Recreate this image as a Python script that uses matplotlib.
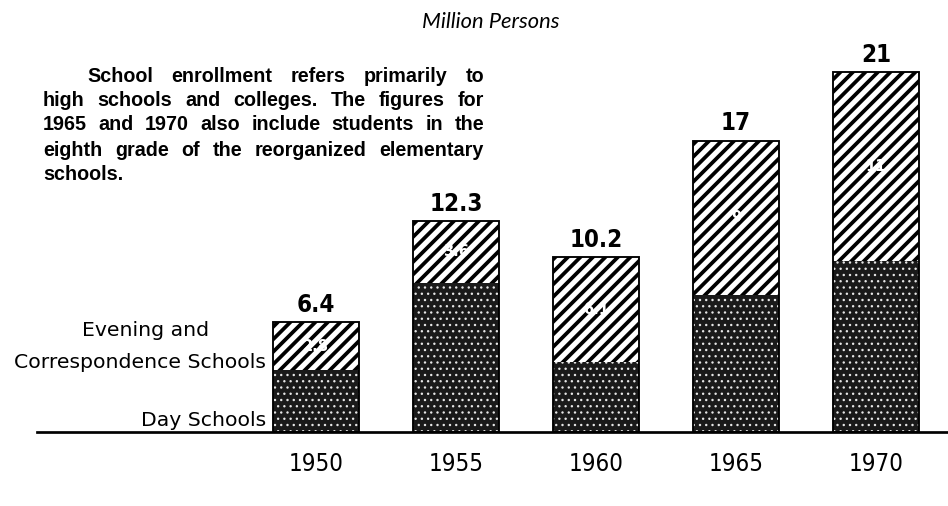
import matplotlib
matplotlib.use('Agg')
import matplotlib.pyplot as plt
import matplotlib.font_manager as fm
import numpy as np

# data (million persons)
years = ['1950', '1955', '1960', '1965', '1970']
day_schools = [3.6, 8.7, 4.1, 8, 10]
evening_schools = [2.8, 3.6, 6.1, 9, 11]
total_labels = ['6.4', '12.3', '10.2', '17', '21']
evening_labels = ['2.8', '3.6', '6.1', '9', '11']

note_lines = [
    'School enrollment refers primarily to',
    'high schools and colleges. The figures for',
    '1965 and 1970 also include students in the',
    'eighth grade of the reorganized elementary',
    'schools.',
]


def narrow_font(bold):
    # look for an installed narrow / condensed face
    files = [f for f in fm.fontManager.ttflist]
    for key in ['LiberationSansNarrow', 'DejaVuSansCondensed']:
        for f in files:
            name = f.fname.split('/')[-1]
            if not name.startswith(key):
                continue
            is_bold = 'Bold' in name
            if is_bold == bold and 'Italic' not in name and 'Oblique' not in name:
                return fm.FontProperties(fname=f.fname), key
    return fm.FontProperties(family='DejaVu Sans',
                             weight='bold' if bold else 'normal'), 'none'


W, H, DPI = 948, 506, 75
fig = plt.figure(figsize=(W / DPI, H / DPI), dpi=DPI)
ax = fig.add_axes([37 / W, 1 - 432 / H, 1 - 37 / W, 432 / H])

x = np.arange(len(years))
day = np.array(day_schools)
eve = np.array(evening_schools)
tot = day + eve
w = 0.62

# day schools: dark stipple
day_bars = ax.bar(x, day, width=w, color='#1a1a1a', edgecolor='#e6e6e6',
                  hatch='..', linewidth=0)
for p in day_bars:
    if hasattr(p, 'set_hatch_linewidth'):
        p.set_hatch_linewidth(1.1)

# evening and correspondence: heavy diagonal stripes
eve_bars = ax.bar(x, eve, bottom=day, width=w, color='white', edgecolor='black',
                  hatch='//', linewidth=0)
for p in eve_bars:
    if hasattr(p, 'set_hatch_linewidth'):
        p.set_hatch_linewidth(3.6)

ax.bar(x, tot, width=w, fill=False, edgecolor='black', linewidth=1.8)

bold_fp, bold_key = narrow_font(True)
reg_fp, reg_key = narrow_font(False)
val_size = 27 if bold_key == 'LiberationSansNarrow' else 23
tick_size = 28 if reg_key == 'LiberationSansNarrow' else 23

for xi, t, lab in zip(x, tot, total_labels):
    fp = bold_fp.copy()
    fp.set_size(val_size)
    ax.annotate(lab, (xi, t), xytext=(0, 5), textcoords='offset points',
                ha='center', va='bottom', fontproperties=fp)

for xi, d, e, lab in zip(x, day, eve, evening_labels):
    ax.text(xi, d + e / 2, lab, ha='center', va='center', fontsize=14,
            color='white', fontweight='bold')

ax.set_xlim(-1.993, 4.514)
ax.set_ylim(0, 25.2)
ax.set_xticks(x, years)
ax.tick_params(axis='x', length=0, pad=19)
for t in ax.get_xticklabels():
    t.set_fontproperties(reg_fp)
    t.set_fontsize(tick_size)
ax.set_yticks([])
for s in ['top', 'left', 'right']:
    ax.spines[s].set_visible(False)
ax.spines['bottom'].set_linewidth(2.6)


def px(xp, yp):
    return xp / W, 1 - yp / H


fig.text(*px(491, 22), 'Million Persons', ha='center', va='center',
         fontsize=21, style='italic', family='Lato')

# justified note paragraph
renderer = fig.canvas.get_renderer()
right = 484
starts = [87, 43, 43, 43, 43]
ys = [76, 101, 125, 150, 174]
note_kw = dict(ha='left', va='center', fontsize=19, fontweight='bold',
               family='Liberation Sans')
for i, (line, x0, y0) in enumerate(zip(note_lines, starts, ys)):
    if i == len(note_lines) - 1:
        fig.text(*px(x0, y0), line, **note_kw)
        continue
    words = line.split()
    objs = [fig.text(0, 0, wd, **note_kw) for wd in words]
    widths = [o.get_window_extent(renderer).width for o in objs]
    gap = (right - x0 - sum(widths)) / (len(words) - 1)
    cur = x0
    for o, wd in zip(objs, widths):
        o.set_position(px(cur, y0))
        cur += wd + gap

fig.text(*px(146, 330), 'Evening and', ha='center', va='center', fontsize=19.5)
fig.text(*px(266, 362), 'Correspondence Schools', ha='right', va='center', fontsize=19.5)
fig.text(*px(266, 421), 'Day Schools', ha='right', va='center', fontsize=19.5)

fig.savefig('out.png', dpi=DPI)
